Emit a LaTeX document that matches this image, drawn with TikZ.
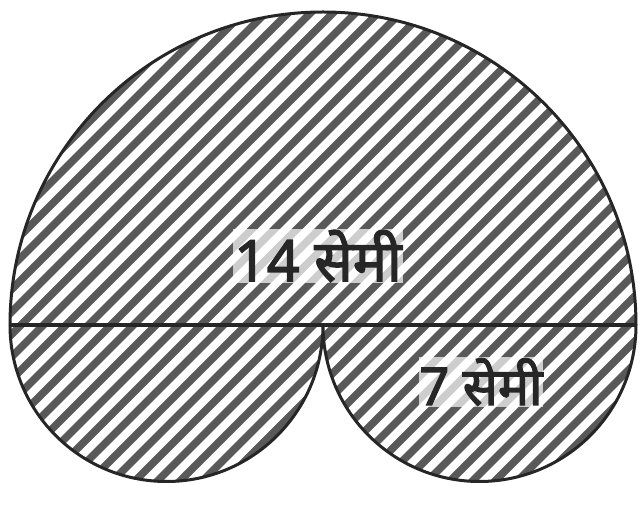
\documentclass[tikz,border=0pt]{standalone}
\usepackage{fontspec}
\newfontfamily\devfont[Script=Devanagari,AutoFakeBold=2.5]{Noto Sans}
\begin{document}
\begin{tikzpicture}[x=1pt,y=1pt,
  outline/.style={draw=black!85,line width=3pt},
  hatchline/.style={draw=black!65,line width=7.5pt},
  lbl/.style={text=black!85, fill=white, fill opacity=0.7, text opacity=1, inner sep=1pt}]
\useasboundingbox (0,0) rectangle (641,506);
\coordinate (C) at (323,181);
\coordinate (L) at (166.5,181);
\coordinate (R) at (479.5,181);
\begin{scope}
  \clip (10,181) arc[start angle=180,end angle=0,radius=313]
        arc[start angle=0,end angle=-180,radius=156.5]
        arc[start angle=0,end angle=-180,radius=156.5] -- cycle;
  \foreach \k in {-40,...,60} {
    \draw[hatchline] (\k*22.5-520,0) -- ++(560,560);
  }
\end{scope}
\draw[outline] (10,181) arc[start angle=180,end angle=0,radius=313]
        arc[start angle=0,end angle=-180,radius=156.5]
        arc[start angle=0,end angle=-180,radius=156.5] -- cycle;
\draw[outline,line width=3.5pt] (10,181) -- (636,181);
\node[lbl,font=\devfont\bfseries\fontsize{57}{60}\selectfont] (t14) at (318,250) {14 सेमी};
\node[lbl,font=\devfont\bfseries\fontsize{52}{56}\selectfont] (t7) at (481,124) {7 सेमी};
\end{tikzpicture}
\end{document}
